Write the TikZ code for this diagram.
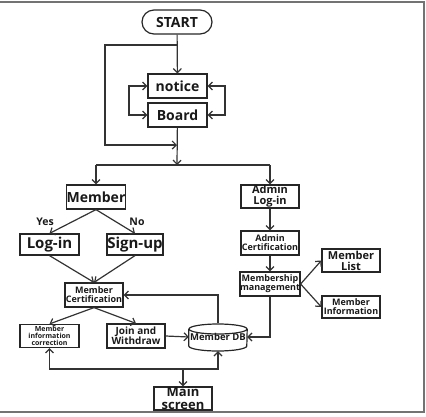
\documentclass[tikz,border=0pt]{standalone}
\usepackage{fontspec}
\setmainfont{Open Sans}
\usetikzlibrary{arrows.meta,calc}
\newcommand{\fs}[1]{\fontsize{#1}{#1}\selectfont\bfseries}
\begin{document}
\begin{tikzpicture}[x=1pt,y=-1pt,
  box/.style={draw=black!85, line width=1.2pt, inner sep=0pt, align=center,
    minimum width=58pt, minimum height=24pt, text=black!90},
  conn/.style={draw=black!80, line width=1.2pt},
  arr/.style={conn, -{Straight Barb[length=4pt,width=8pt]}},
  barbs/.style={conn, {Straight Barb[length=4pt,width=8pt]}-{Straight Barb[length=4pt,width=8pt]}},
  lbl/.style={inner sep=0pt, font=\fs{10.5}, text=black!90},
  frame/.style={draw=black!55, line width=1.4pt}
]
\useasboundingbox (0,0) rectangle (426,416);
\draw[frame] (0,2) -- (424,2) -- (424,412) -- (0,412);

% nodes
\node[box, rounded corners=12pt, minimum width=70pt, font=\fs{14}] (start) at (177,22) {START};
\node[box, minimum width=59pt, font=\fs{14}] (notice) at (177.5,86) {notice};
\node[box, minimum width=59pt, font=\fs{14}] (board) at (177.5,115) {Board};
\node[box, font=\fs{14}] (member) at (96,197) {Member};
\node[box, minimum width=59pt, minimum height=21pt, font=\fs{15}] (login) at (49.5,244.5) {Log-in};
\node[box, minimum width=56pt, minimum height=21pt, font=\fs{15}] (signup) at (135,244.5) {Sign-up};
\node[box, font=\fs{9}] (mcert) at (94,295) {Member\\Certification};
\node[box, minimum width=59pt, minimum height=23pt, font=\fs{7}] (mic) at (49.5,336) {Member\\information\\correction};
\node[box, font=\fs{10}] (join) at (136,336) {Join and\\Withdraw};
\node[inner sep=0pt, minimum width=58pt, minimum height=28pt, font=\fs{9.5}, text=black!90] (db) at (218,337) {Member DB};
\node[box, minimum height=23pt, font=\fs{13}] (main) at (183,398.5) {Main\\screen};
\node[box, minimum height=23pt, font=\fs{11}] (alog) at (270,196.5) {Admin\\Log-in};
\node[box, font=\fs{9}] (acert) at (270,243) {Admin\\Certification};
\node[box, font=\fs{9}] (mm) at (270,284) {Membership\\management};
\node[box, minimum height=23pt, font=\fs{11}] (mlist) at (351,260.5) {Member\\List};
\node[box, minimum height=22pt, font=\fs{9}] (minfo) at (351,307) {Member\\Information};

% cylinder outline for Member DB
\draw[draw=black!85, line width=1.2pt] ([yshift=8pt]db.center) ellipse [x radius=29pt, y radius=5pt];
\draw[draw=black!85, line width=1.2pt] ([yshift=8pt]db.west) -- ([yshift=-9pt]db.west)
  arc[start angle=180, end angle=360, x radius=29pt, y radius=5pt] -- ([yshift=8pt]db.east);

% labels
\node[lbl] (yes) at (45,222) {Yes};
\node[lbl] (no) at (137,222) {No};

% coordinates
\coordinate (a1) at (177,45);
\coordinate (l1) at (105,45);
\coordinate (l2) at (105,145);
\coordinate (j1) at (177,145);
\coordinate (lx) at (129,100);
\coordinate (rx) at (225,100);
\coordinate (br) at (177,165);
\coordinate (bt) at (182,369);

% connectors
\draw[arr] (start) -- (notice);
\draw[arr] (a1) -- (l1) -- (l2) -- (j1);
\draw[barbs] (notice.west) -- (notice.west -| lx) -- (board.west -| lx) -- (board.west);
\draw[barbs] (notice.east) -- (notice.east -| rx) -- (board.east -| rx) -- (board.east);
\draw[arr] (board) -- (br);
\draw[conn] (member.north |- br) -- (alog.north |- br);
\draw[arr] (member.north |- br) -- (member.north);
\draw[arr] (alog.north |- br) -- (alog.north);

\draw[arr] (member.south) -- (login.north);
\draw[arr] (member.south) -- (signup.north);
\draw[arr] (login.south) -- (mcert.north);
\draw[arr] (signup.south) -- (mcert.north);
\draw[arr] (mcert.south) -- (mic.north);
\draw[arr] (mcert.south) -- (join.north);
\draw[arr] (join.east) -- (db.west);
\draw[arr] (db.north) -- (db.north |- mcert.east) -- (mcert.east);
\draw[barbs] (mic.south) -- (mic.south |- bt) -- (db.south |- bt) -- (db.south);
\draw[arr] (main.north |- bt) -- (main.north);

\draw[arr] (alog) -- (acert);
\draw[arr] (acert) -- (mm);
\draw[arr] (mm.east) -- (mlist.west);
\draw[arr] (mm.east) -- (minfo.west);
\draw[arr] (mm.south) |- (db.east);
\end{tikzpicture}
\end{document}
